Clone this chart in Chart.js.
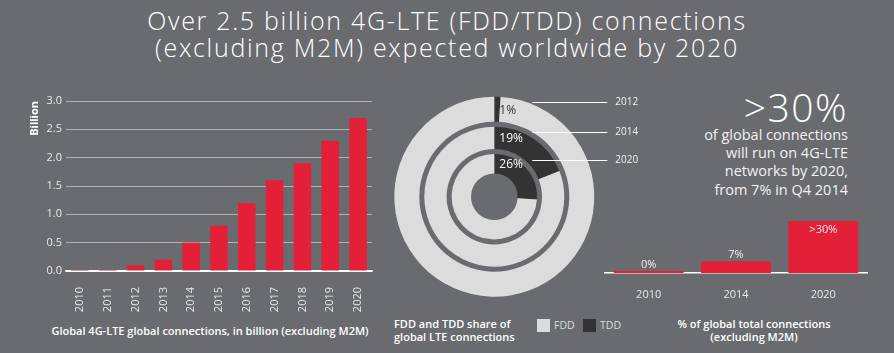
<!DOCTYPE html>
<html>
<head>
<meta charset="utf-8">
<script src="https://cdn.jsdelivr.net/npm/chart.js@4.4.1/dist/chart.umd.min.js"></script>
<style>
  body { margin:0; width:894px; height:353px; background:#6a6b6f; position:relative; overflow:hidden;
         font-family:"Open Sans", sans-serif; color:#fff; }
  .abs { position:absolute; }
  canvas { position:absolute; }
  #title { left:0; top:7px; width:894px; text-align:center; font-size:25px; line-height:27px; font-weight:300; letter-spacing:1.7px; }
  #big { right:46px; top:87px; font-size:39px; line-height:39px; font-weight:300; text-align:right; letter-spacing:1.5px; }
  #note { right:46px; top:126px; font-size:14.5px; line-height:18.2px; text-align:right; color:#f2f2f2; }
  .cap { font-size:11px; font-weight:600; color:#fff; }
  #capLeft { left:0; top:324px; width:420px; text-align:center; line-height:14px; }
  #capMid { left:394px; top:318px; line-height:12.5px; }
  #capRight { left:654px; top:317px; width:200px; text-align:center; line-height:13px; }
  .box { width:13px; height:13px; top:319px; }
  .lg { font-size:10.5px; top:318px; line-height:14px; color:#dcdcdd; }
</style>
</head>
<body>
<div id="title" class="abs">Over 2.5 billion 4G-LTE (FDD/TDD) connections<br>(excluding M2M) expected worldwide by 2020</div>

<canvas id="growth" width="380" height="222" style="left:0;top:90px"></canvas>
<canvas id="share" width="280" height="220" style="left:380px;top:90px"></canvas>
<canvas id="percent" width="280" height="100" style="left:600px;top:200px"></canvas>

<div id="big" class="abs">&gt;30%</div>
<div id="note" class="abs">of global connections<br>will run on 4G-LTE<br>networks by 2020,<br>from 7% in Q4 2014</div>

<div id="capLeft" class="abs cap">Global 4G-LTE global connections, in billion (excluding M2M)</div>
<div id="capMid" class="abs cap">FDD and TDD share of<br>global LTE connections</div>
<div class="abs box" style="left:537px;background:#dcdcdd"></div>
<div class="abs lg" style="left:554px">FDD</div>
<div class="abs box" style="left:583px;background:#333333"></div>
<div class="abs lg" style="left:600px">TDD</div>
<div id="capRight" class="abs cap">% of global total connections<br>(excluding M2M)</div>

<script>
// left chart: connections in billion
const years = ['2010','2011','2012','2013','2014','2015','2016','2017','2018','2019','2020'];
const connections = [0.02, 0.02, 0.1, 0.2, 0.5, 0.8, 1.2, 1.6, 1.9, 2.3, 2.7];

// doughnut: FDD / TDD share per year
const ringYears = ['2012','2014','2020'];
const tddShare = [1, 19, 26];
const fddShare = [99, 81, 74];

// right chart: % of global connections
const shareYears = ['2010','2014','2020'];
const globalShare = [0, 7, 31];
const globalShareLabels = ['0%', '7%', '>30%'];

const red = '#e42039';
const light = '#dcdcdd';
const dark = '#333333';
const tickColor = '#e8e8e8';

Chart.defaults.font.family = "'Open Sans', sans-serif";
Chart.defaults.animation = false;

new Chart(document.getElementById('growth'), {
    type: 'bar',
    data: {
        labels: years,
        datasets: [{
            data: connections,
            backgroundColor: red,
            barPercentage: 0.63,
            categoryPercentage: 1
        }]
    },
    options: {
        responsive: false,
        events: [],
        layout: {padding: {top: 11, right: 8}},
        plugins: {legend: {display: false}, tooltip: {enabled: false}},
        scales: {
            x: {
                grid: {display: false},
                border: {color: '#fff', width: 1.5},
                ticks: {minRotation: 90, maxRotation: 90, padding: 8, color: tickColor, font: {size: 11}},
                afterFit: s => { s.height = 41; }
            },
            y: {
                min: 0,
                max: 3,
                ticks: {stepSize: 0.5, padding: 4, color: tickColor, font: {size: 11},
                        callback: v => v.toFixed(1)},
                grid: {drawTicks: false, color: c => c.tick.value === 0 ? '#fff' : '#b3b4b7'},
                border: {display: false},
                title: {display: true, text: 'Billion', align: 'end', color: '#fff',
                        font: {size: 11, weight: 'bold'}, padding: {top: 28, bottom: 0}},
                afterFit: s => { s.width = 66; }
            }
        }
    }
});

// leader lines, year names and TDD percentages on the rings
const ringNotes = {
    id: 'ringNotes',
    afterDraw(chart) {
        const ctx = chart.ctx;
        ctx.save();
        ringYears.forEach((yr, i) => {
            const arc = chart.getDatasetMeta(i * 2).data[0];
            const cx = arc.x, cy = arc.y;
            const inner = arc.innerRadius, outer = arc.outerRadius;

            const ly = Math.round(cy - (outer - 5.5)) + 0.5;
            ctx.strokeStyle = '#fff';
            ctx.lineWidth = 1;
            ctx.beginPath();
            ctx.moveTo(cx + 38, ly);
            ctx.lineTo(cx + 113, ly);
            ctx.stroke();
            ctx.fillStyle = '#f0f0f0';
            ctx.font = "10px 'Open Sans'";
            ctx.textAlign = 'left';
            ctx.textBaseline = 'middle';
            ctx.fillText(yr, cx + 121, ly);

            ctx.fillStyle = tddShare[i] < 5 ? dark : '#fff';
            ctx.font = "12px 'Open Sans'";
            ctx.fillText(tddShare[i] + '%', cx + 5, cy - (inner + 0.45 * (outer - inner)));
        });
        ctx.restore();
    }
};

const ringWeights = [25, 22.3, 19.4];
const ringSets = [];
ringYears.forEach((yr, i) => {
    ringSets.push({
        label: yr,
        data: [tddShare[i], fddShare[i]],
        backgroundColor: [dark, light],
        weight: ringWeights[i]
    });
    if (i < ringYears.length - 1) {
        ringSets.push({label: '', data: [100], backgroundColor: ['rgba(0,0,0,0)'], weight: 5});
    }
});

new Chart(document.getElementById('share'), {
    type: 'doughnut',
    data: {labels: ['TDD', 'FDD'], datasets: ringSets},
    options: {
        responsive: false,
        events: [],
        cutout: '23.3%',
        borderWidth: 0,
        layout: {padding: {left: 14.3, top: 6.7, right: 65.7, bottom: 13.3}},
        plugins: {legend: {display: false}, tooltip: {enabled: false}}
    },
    plugins: [ringNotes]
});

const barNotes = {
    id: 'barNotes',
    afterDatasetsDraw(chart) {
        const ctx = chart.ctx;
        ctx.save();
        ctx.font = "11px 'Open Sans'";
        ctx.textAlign = 'center';
        ctx.textBaseline = 'alphabetic';
        ctx.fillStyle = '#f0f0f0';
        chart.getDatasetMeta(0).data.forEach((bar, i) => {
            const inside = bar.base - bar.y > 30;
            ctx.fillText(globalShareLabels[i], bar.x, inside ? bar.y + 12 : bar.y - 3);
        });
        ctx.restore();
    }
};

new Chart(document.getElementById('percent'), {
    type: 'bar',
    data: {
        labels: shareYears,
        datasets: [{
            data: globalShare,
            backgroundColor: red,
            barPercentage: 0.8,
            categoryPercentage: 1,
            minBarLength: 2
        }]
    },
    options: {
        responsive: false,
        events: [],
        layout: {padding: {left: 5, right: 13, top: 6}},
        plugins: {legend: {display: false}, tooltip: {enabled: false}},
        scales: {
            x: {
                grid: {display: false},
                border: {color: '#fff', width: 1.5},
                ticks: {padding: 7, color: tickColor, font: {size: 11}},
                afterFit: s => { s.height = 27; }
            },
            y: {display: false, min: 0, max: 40}
        }
    },
    plugins: [barNotes]
});
</script>
</body>
</html>
